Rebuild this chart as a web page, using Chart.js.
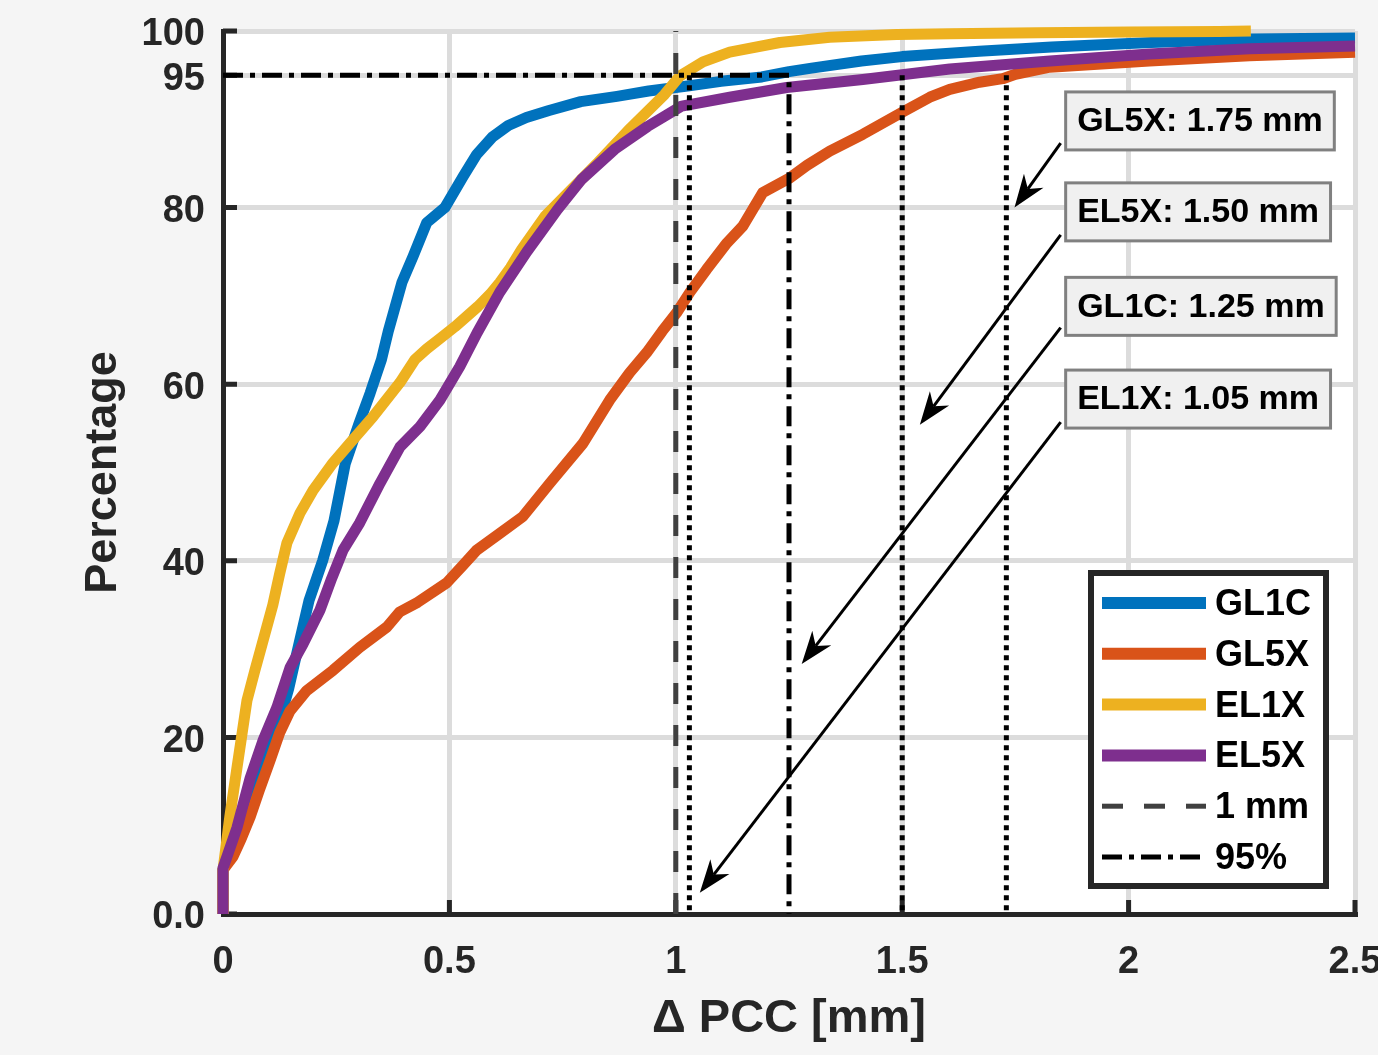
<!DOCTYPE html>
<html>
<head>
<meta charset="utf-8">
<script src="https://cdn.jsdelivr.net/npm/chart.js@4.4.1/dist/chart.umd.min.js"></script>
<style>
  html, body { margin: 0; padding: 0; background: #f5f5f5; overflow: hidden; }
  canvas { display: block; }
</style>
</head>
<body>
<canvas id="cdfChart" width="1378" height="1055"></canvas>
<script>
// CDF curves (x in mm, y in %)
const gl1cX = [0, 0, 0.03, 0.06, 0.09, 0.12, 0.145, 0.165, 0.19, 0.22, 0.245, 0.27, 0.3, 0.325, 0.35, 0.365, 0.395, 0.42, 0.45, 0.49, 0.53, 0.56, 0.595, 0.63, 0.67, 0.72, 0.79, 0.87, 0.94, 1.03, 1.1, 1.19, 1.25, 1.3, 1.41, 1.5, 1.67, 1.83, 2.05, 2.27, 2.5];
const gl1cY = [0, 5, 8.5, 12.5, 16.5, 21, 25.5, 30, 35.5, 40, 44.5, 51, 55.5, 59, 62.8, 66, 71.5, 74.5, 78.3, 80, 83.5, 86, 88, 89.3, 90.2, 91, 92, 92.6, 93.2, 93.8, 94.3, 94.8, 95.4, 95.8, 96.6, 97.1, 97.7, 98.2, 98.7, 99.1, 99.2];

const gl5xX = [0, 0, 0.022, 0.04, 0.06, 0.08, 0.104, 0.125, 0.148, 0.185, 0.243, 0.302, 0.362, 0.39, 0.43, 0.494, 0.53, 0.56, 0.611, 0.662, 0.722, 0.795, 0.854, 0.898, 0.936, 0.97, 1.002, 1.031, 1.068, 1.113, 1.148, 1.192, 1.25, 1.29, 1.34, 1.413, 1.5, 1.561, 1.605, 1.671, 1.722, 1.75, 1.826, 2.046, 2.267, 2.5];
const gl5xY = [0, 5, 6.5, 8.5, 11, 14, 17.4, 20.5, 23, 25.3, 27.6, 30.2, 32.5, 34.2, 35.3, 37.5, 39.5, 41.2, 43.1, 45, 48.8, 53.3, 58.2, 61.3, 63.6, 66, 68.1, 70.4, 73, 76, 77.9, 81.7, 83.3, 84.8, 86.4, 88.3, 90.8, 92.5, 93.4, 94.2, 94.6, 95.1, 95.9, 96.6, 97.2, 97.6];

const el1xX = [0, 0, 0.015, 0.031, 0.053, 0.07, 0.086, 0.11, 0.125, 0.141, 0.17, 0.199, 0.243, 0.28, 0.331, 0.391, 0.424, 0.45, 0.48, 0.512, 0.563, 0.59, 0.611, 0.635, 0.66, 0.711, 0.755, 0.828, 0.9, 0.975, 1.009, 1.06, 1.119, 1.23, 1.34, 1.488, 1.605, 1.8, 2.0, 2.2, 2.27];
const el1xY = [0, 5, 11, 16.6, 24.2, 27.5, 30.5, 35, 38.5, 42, 45.4, 48, 51.1, 53.3, 56.3, 60.2, 62.8, 64, 65.2, 66.5, 68.8, 70.2, 71.5, 73.2, 75.3, 79, 81.3, 85.1, 89, 92.8, 94.9, 96.5, 97.6, 98.7, 99.3, 99.6, 99.7, 99.8, 99.9, 99.95, 100];

const el5xX = [0, 0, 0.031, 0.06, 0.088, 0.119, 0.148, 0.177, 0.214, 0.24, 0.265, 0.302, 0.347, 0.391, 0.435, 0.479, 0.523, 0.561, 0.611, 0.671, 0.739, 0.792, 0.865, 0.938, 1.013, 1.119, 1.245, 1.413, 1.605, 1.826, 2.046, 2.267, 2.5];
const el5xY = [0, 5.2, 9.8, 15.4, 19.6, 23.4, 27.9, 30.6, 34.4, 38, 41.2, 44.3, 48.8, 52.9, 55.2, 58.2, 62, 65.8, 70.4, 75, 79.8, 83.2, 86.6, 89.2, 91.5, 92.5, 93.6, 94.5, 95.7, 96.6, 97.4, 98, 98.3];

const seriesNames = ['GL1C', 'GL5X', 'EL1X', 'EL5X'];
const seriesX = [gl1cX, gl5xX, el1xX, el5xX];
const seriesY = [gl1cY, gl5xY, el1xY, el5xY];

const xTickVals = [0, 0.5, 1, 1.5, 2, 2.5];
const xTickLabels = ['0', '0.5', '1', '1.5', '2', '2.5'];
const yTickVals = [0, 20, 40, 60, 80, 95, 100];
const yTickLabels = ['0.0', '20', '40', '60', '80', '95', '100'];

// reference lines
const limitMm = 1;
const limitPct = 95;
const pctTurn = 1.25;               // 95% line turns down here
const crossLines = [1.03, 1.5, 1.73]; // dotted drops from 95%

// text boxes
const noteNames = ['GL5X', 'EL5X', 'GL1C', 'EL1X'];
const noteValues = [1.75, 1.50, 1.25, 1.05];

const colors = ['#0072BD', '#D95319', '#EDB120', '#7E2F8E'];
const FONT = '"Liberation Sans", Arial, Helvetica, sans-serif';

const pts = (xs, ys) => xs.map((x, i) => ({ x: x, y: ys[i] }));

const datasets = seriesNames.map((name, i) => ({
    label: name,
    data: pts(seriesX[i], seriesY[i]),
    borderColor: colors[i],
    borderWidth: 11,
    borderJoinStyle: 'round',
    order: 4 - i, // later series sit on top
    clip: false,
}));

datasets.push({
    label: '1 mm',
    data: [{ x: limitMm, y: 0 }, { x: limitMm, y: 100 }],
    borderColor: '#404040',
    borderWidth: 5,
    borderDash: [21, 21],
    order: 0,
});
datasets.push({
    label: '95%',
    data: [{ x: 0, y: limitPct }, { x: pctTurn, y: limitPct }, { x: pctTurn, y: 0 }],
    borderColor: '#000000',
    borderWidth: 5,
    borderDash: [20, 7, 5, 7],
    order: 0,
});
crossLines.forEach(v => {
    datasets.push({
        label: '',
        data: [{ x: v, y: limitPct }, { x: v, y: 0 }],
        borderColor: '#000000',
        borderWidth: 5,
        borderDash: [5, 5],
        order: 0,
    });
});

// where each text box sits and what its arrow points at (data units)
const noteLayout = [
    { left: 1.861, top: 93.1, tailX: 1.850, tailY: 87.3, tipX: 1.748, tipY: 80.0 },
    { left: 1.861, top: 82.8, tailX: 1.850, tailY: 76.9, tipX: 1.539, tipY: 55.4 },
    { left: 1.861, top: 72.1, tailX: 1.850, tailY: 66.4, tipX: 1.278, tipY: 28.3 },
    { left: 1.861, top: 61.6, tailX: 1.850, tailY: 55.7, tipX: 1.053, tipY: 2.4 },
];

function zeroPadding(scale) {
    scale.paddingLeft = 0;
    scale.paddingRight = 0;
    scale.paddingTop = 0;
    scale.paddingBottom = 0;
}

// figure grey with a white axes box
const paperPlugin = {
    id: 'paper',
    beforeDraw(chart) {
        const { ctx, chartArea: a } = chart;
        ctx.save();
        ctx.fillStyle = '#f5f5f5';
        ctx.fillRect(0, 0, chart.width, chart.height);
        ctx.fillStyle = '#ffffff';
        ctx.fillRect(a.left, a.top, a.right - a.left, a.bottom - a.top);
        ctx.restore();
    }
};

// MATLAB style ticks pointing into the axes
const tickPlugin = {
    id: 'inTicks',
    beforeDatasetsDraw(chart) {
        const { ctx, chartArea: a, scales: { x, y } } = chart;
        ctx.save();
        ctx.strokeStyle = '#262626';
        ctx.lineWidth = 5;
        ctx.beginPath();
        yTickVals.forEach(v => {
            const py = y.getPixelForValue(v);
            ctx.moveTo(a.left, py);
            ctx.lineTo(a.left + 14, py);
        });
        xTickVals.forEach(v => {
            const px = x.getPixelForValue(v);
            ctx.moveTo(px, a.bottom);
            ctx.lineTo(px, a.bottom - 14);
        });
        ctx.stroke();
        ctx.restore();
    }
};

function drawArrow(ctx, x0, y0, x1, y1) {
    const dx = x0 - x1, dy = y0 - y1;
    const len = Math.hypot(dx, dy);
    const ux = dx / len, uy = dy / len;
    const nx = -uy, ny = ux;
    const L = 33, W = 12, N = 23;
    ctx.beginPath();
    ctx.moveTo(x0, y0);
    ctx.lineTo(x1 + ux * N, y1 + uy * N);
    ctx.stroke();
    ctx.beginPath();
    ctx.moveTo(x1, y1);
    ctx.lineTo(x1 + ux * L + nx * W, y1 + uy * L + ny * W);
    ctx.lineTo(x1 + ux * N, y1 + uy * N);
    ctx.lineTo(x1 + ux * L - nx * W, y1 + uy * L - ny * W);
    ctx.closePath();
    ctx.fill();
}

const notePlugin = {
    id: 'notes',
    afterDatasetsDraw(chart) {
        const { ctx, scales: { x, y } } = chart;
        ctx.save();
        ctx.strokeStyle = '#000';
        ctx.fillStyle = '#000';
        ctx.lineWidth = 3;
        noteLayout.forEach(n => {
            drawArrow(ctx, x.getPixelForValue(n.tailX), y.getPixelForValue(n.tailY),
                x.getPixelForValue(n.tipX), y.getPixelForValue(n.tipY));
        });
        ctx.font = 'bold 34px ' + FONT;
        ctx.textBaseline = 'middle';
        ctx.textAlign = 'center';
        noteLayout.forEach((n, i) => {
            const text = `${noteNames[i]}: ${noteValues[i].toFixed(2)} mm`;
            const w = ctx.measureText(text).width + 23;
            const h = 58;
            const bx = x.getPixelForValue(n.left);
            const by = y.getPixelForValue(n.top);
            ctx.fillStyle = '#f0f0f0';
            ctx.fillRect(bx, by, w, h);
            ctx.strokeStyle = '#808080';
            ctx.lineWidth = 3;
            ctx.strokeRect(bx, by, w, h);
            ctx.fillStyle = '#000';
            ctx.fillText(text, bx + w / 2, by + h / 2 + 1);
        });
        ctx.restore();
    }
};

// boxed legend in the lower right corner of the axes
const legendPlugin = {
    id: 'boxLegend',
    afterDraw(chart) {
        const { ctx, chartArea: a } = chart;
        const w = 235, h = 313;
        const left = a.right - 29 - w;
        const top = a.bottom - 28 - h;
        ctx.save();
        ctx.fillStyle = '#ffffff';
        ctx.fillRect(left, top, w, h);
        ctx.strokeStyle = '#262626';
        ctx.lineWidth = 6;
        ctx.strokeRect(left, top, w, h);

        const items = chart.data.datasets.filter(d => d.label);
        ctx.font = 'bold 36px ' + FONT;
        ctx.textBaseline = 'middle';
        ctx.textAlign = 'left';
        items.forEach((d, i) => {
            const ry = top + 30 + i * 50.8;
            ctx.strokeStyle = d.borderColor;
            ctx.lineWidth = d.borderWidth > 6 ? 12 : d.borderWidth;
            ctx.setLineDash(d.borderDash || []);
            ctx.beginPath();
            ctx.moveTo(left + 11, ry);
            ctx.lineTo(left + 115, ry);
            ctx.stroke();
            ctx.setLineDash([]);
            ctx.fillStyle = '#000';
            ctx.fillText(d.label, left + 124, ry + 2);
        });
        ctx.restore();
    }
};

const tickFont = { family: FONT, size: 38, weight: 'bold' };

new Chart(document.getElementById('cdfChart').getContext('2d'), {
    type: 'line',
    data: { datasets: datasets },
    options: {
        responsive: false,
        animation: false,
        layout: { padding: { left: 0, top: 31, right: 23, bottom: 0 } },
        elements: { point: { radius: 0 }, line: { tension: 0 } },
        plugins: { legend: { display: false }, tooltip: { enabled: false } },
        scales: {
            x: {
                type: 'linear',
                min: 0,
                max: 2.5,
                afterBuildTicks: s => { s.ticks = xTickVals.map(v => ({ value: v })); },
                afterFit: s => { s.height = 141; zeroPadding(s); },
                ticks: {
                    autoSkip: false,
                    maxRotation: 0,
                    padding: 26,
                    color: '#262626',
                    font: tickFont,
                    callback: (v, i) => xTickLabels[i],
                },
                grid: { color: '#dcdcdc', lineWidth: 5, drawTicks: false },
                border: { color: '#262626', width: 5 },
                title: {
                    display: true,
                    text: 'Δ PCC [mm]',
                    color: '#262626',
                    font: { family: FONT, size: 47, weight: 'bold', lineHeight: 1 },
                    padding: { top: 0, bottom: 12 },
                },
            },
            y: {
                type: 'linear',
                min: 0,
                max: 100,
                afterBuildTicks: s => { s.ticks = yTickVals.map(v => ({ value: v })); },
                afterFit: s => { s.width = 223; zeroPadding(s); },
                ticks: {
                    autoSkip: false,
                    padding: 18,
                    labelOffset: 4,
                    color: '#262626',
                    font: tickFont,
                    callback: (v, i) => yTickLabels[i],
                },
                grid: { color: '#dcdcdc', lineWidth: 5, drawTicks: false },
                border: { color: '#262626', width: 5 },
                title: {
                    display: true,
                    text: 'Percentage',
                    color: '#262626',
                    font: { family: FONT, size: 45, weight: 'bold', lineHeight: 1 },
                    padding: { top: 81, bottom: 0 },
                },
            },
        },
    },
    plugins: [paperPlugin, tickPlugin, notePlugin, legendPlugin],
});
</script>
</body>
</html>
